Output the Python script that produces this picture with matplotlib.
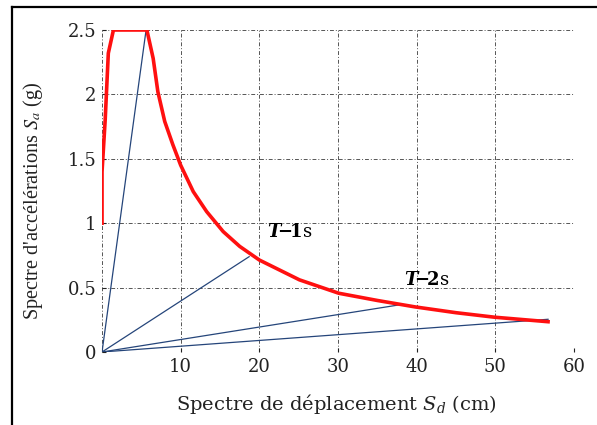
import numpy as np
import matplotlib
matplotlib.use('Agg')
import matplotlib.pyplot as plt
from matplotlib.lines import Line2D

# spectre
sd_spec = [0.0, 0.0, 0.4, 0.8, 1.45, 5.7, 6.5, 7.1, 7.97, 9.0, 10.0, 11.6, 13.3,
           15.4, 17.5, 20.0, 25.1, 30.1, 35.0, 39.8, 45.0, 49.9, 56.7]
sa_spec = [1.0, 1.4, 1.80, 2.32, 2.5, 2.5, 2.28, 2.02, 1.79, 1.61, 1.45, 1.245, 1.09,
           0.935, 0.82, 0.714, 0.56, 0.456, 0.40, 0.35, 0.305, 0.27, 0.235]

# droites de periode (origine -> point sur le spectre)
sd_T = [5.6, 18.7, 37.7, 56.7]
sa_T = [2.5, 0.74, 0.365, 0.254]

xticks = [0, 10, 20, 30, 40, 50, 60]
xlabels = ['', '10', '20', '30', '40', '50', '60']
yticks = [0, 0.5, 1, 1.5, 2, 2.5]
ylabels = ['0', '0.5', '1', '1.5', '2', '2.5']

plt.rcParams['font.family'] = ['DejaVu Serif']
plt.rcParams['mathtext.fontset'] = 'dejavuserif'

fig = plt.figure(figsize=[5.97, 4.25], dpi=100)
ax = fig.add_axes([0.1709, 0.1718, 0.7906, 0.7576])

for sd, sa in zip(sd_T, sa_T):
    ax.plot([0, sd], [0, sa], color='#25457a', linewidth=0.9)
ax.plot(sd_spec, sa_spec, color='#ff1010', linewidth=2.6, zorder=3,
        solid_joinstyle='round')

ax.text(21.0, 0.93, r'$\boldsymbol{T}\!{\mathbf{-}}\!\mathbf{1}\mathrm{s}$', fontsize=13,
        va='center', ha='left')
ax.text(38.4, 0.56, r'$\boldsymbol{T}\!{\mathbf{-}}\!\mathbf{2}\mathrm{s}$', fontsize=13,
        va='center', ha='left')

ax.set_xlim(0, 60)
ax.set_ylim(0, 2.5)
ax.set_xticks(xticks)
ax.set_xticklabels(xlabels)
ax.set_yticks(yticks)
ax.set_yticklabels(ylabels)
ax.tick_params(direction='in', length=3, labelsize=13, colors='#222222', pad=4)
ax.grid(True, linestyle=(0, (4, 2, 1, 2)), linewidth=0.7, color='#555555')
for s in ax.spines.values():
    s.set_visible(False)

ax.set_xlabel(r'Spectre de déplacement $S_d$ (cm)', fontsize=14, color='#222222')
ax.set_ylabel(r"Spectre d'accélérations $S_a$ (g)", fontsize=14.6, color='#222222',
              family='Liberation Serif', math_fontfamily='stix')
ax.xaxis.set_label_coords(0.497, -0.125)
ax.yaxis.set_label_coords(-0.121, 0.47)

# cadre partiel (haut et gauche)
fig.add_artist(Line2D([0.0201, 0.0201], [0.0, 0.9835], transform=fig.transFigure,
                      color='black', linewidth=1.6))
fig.add_artist(Line2D([0.0201, 1.0], [0.9835, 0.9835], transform=fig.transFigure,
                      color='black', linewidth=1.6))

fig.savefig('out.png', dpi=100)
